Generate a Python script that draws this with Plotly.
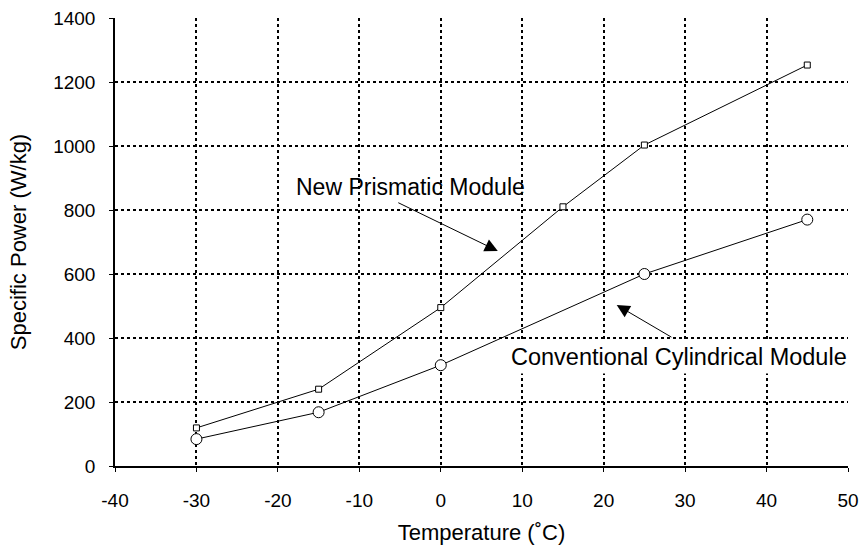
import plotly.graph_objects as go

temps = [-30, -15, 0, 15, 25, 45]
prismatic = [119, 240, 495, 810, 1003, 1253]
temps_cyl = [-30, -15, 0, 25, 45]
cylindrical = [84, 168, 315, 600, 770]

x_ticks = [-40, -30, -20, -10, 0, 10, 20, 30, 40, 50]
y_ticks = [0, 200, 400, 600, 800, 1000, 1200, 1400]

FONT = "Arial, Liberation Sans, sans-serif"

fig = go.Figure()
fig.add_trace(go.Scatter(
    x=temps, y=prismatic, mode="lines+markers", name="New Prismatic Module",
    line=dict(color="black", width=1),
    marker=dict(symbol="square", size=6, color="white", line=dict(color="black", width=1)),
))
fig.add_trace(go.Scatter(
    x=temps_cyl, y=cylindrical, mode="lines+markers", name="Conventional Cylindrical Module",
    line=dict(color="black", width=1),
    marker=dict(symbol="circle", size=11, color="white", line=dict(color="black", width=1)),
))

# Labels
fig.add_annotation(x=-3.7, y=872, text="New Prismatic Module", showarrow=False,
                   font=dict(size=23, color="black", family=FONT))
fig.add_annotation(x=7.0, y=672, ax=-5.4, ay=825, axref="x", ayref="y", text="",
                   showarrow=True, arrowhead=2, arrowsize=2.6, arrowwidth=1, arrowcolor="black")
fig.add_annotation(x=29.2, y=340, text="Conventional Cylindrical Module", showarrow=False,
                   bgcolor="white", borderpad=3,
                   font=dict(size=23.5, color="black", family=FONT))
fig.add_annotation(x=21.6, y=503, ax=28.5, ay=400, axref="x", ayref="y", text="",
                   showarrow=True, arrowhead=2, arrowsize=2.6, arrowwidth=1, arrowcolor="black")

fig.update_layout(
    width=861, height=551,
    margin=dict(l=115, r=13, t=18, b=85),
    paper_bgcolor="white", plot_bgcolor="white",
    showlegend=False,
    font=dict(family=FONT, color="black", size=19),
)
fig.update_xaxes(
    range=[-40, 50], tickvals=x_ticks, ticktext=[str(v) for v in x_ticks],
    showgrid=True, gridcolor="black", griddash="dot", gridwidth=1.5,
    showline=True, linecolor="black", linewidth=1.5,
    ticks="outside", ticklen=4, tickcolor="black", ticklabelstandoff=12,
    zeroline=False, automargin=False,
    title=dict(text="Temperature (˚C)", font=dict(size=22), standoff=15),
    tickfont=dict(size=19),
)
fig.update_yaxes(
    range=[0, 1400], tickvals=y_ticks, ticktext=[str(v) for v in y_ticks],
    showgrid=True, gridcolor="black", griddash="dot", gridwidth=1.5,
    showline=True, linecolor="black", linewidth=1.5,
    ticks="outside", ticklen=4, tickcolor="black", ticklabelstandoff=10,
    zeroline=False, automargin=False,
    title=dict(text="Specific Power (W/kg)", font=dict(size=22), standoff=20),
    tickfont=dict(size=19),
)

fig.write_html("out.html")
